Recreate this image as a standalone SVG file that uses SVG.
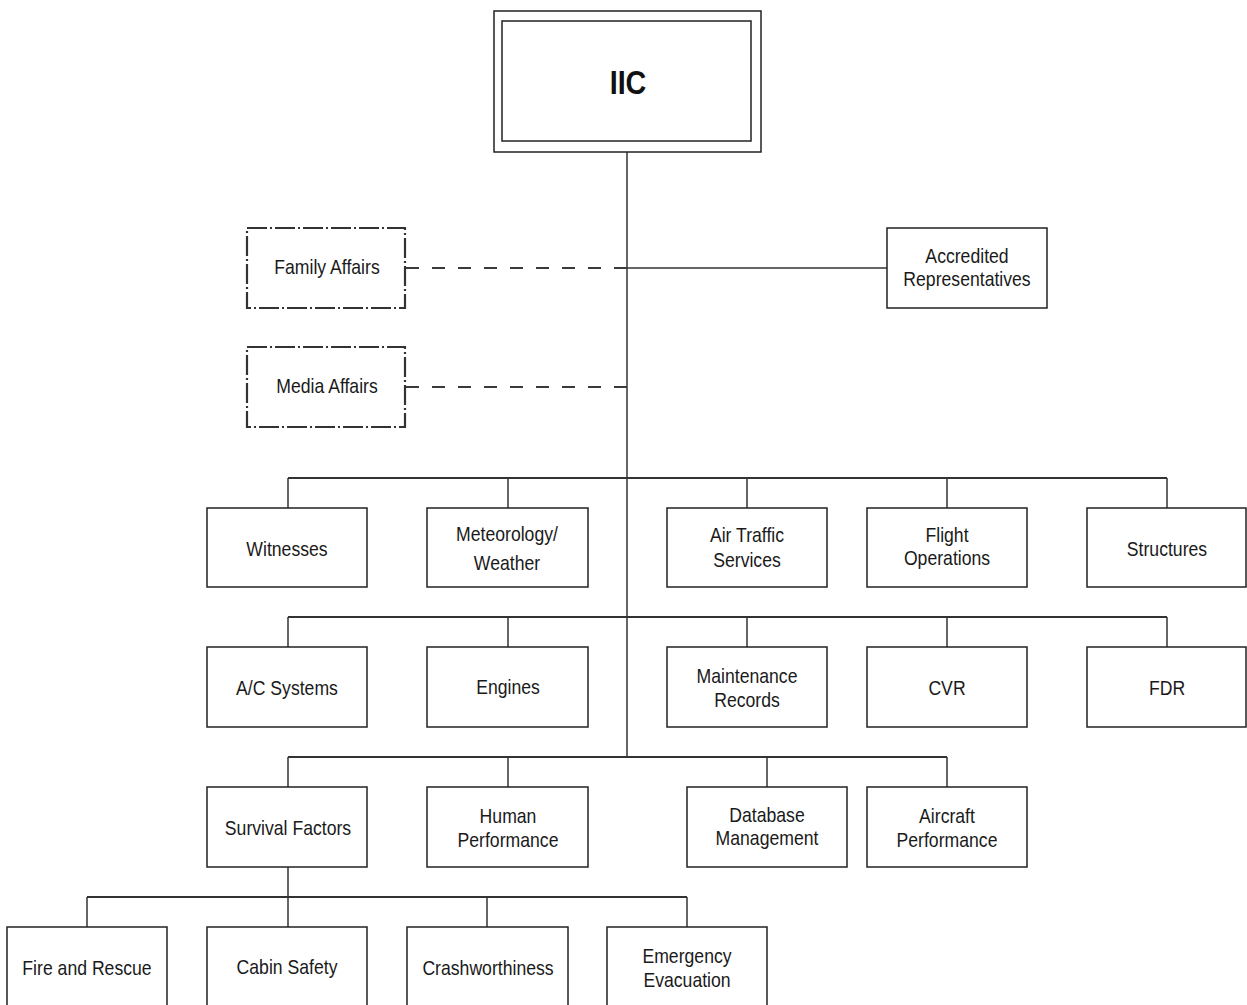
<svg xmlns="http://www.w3.org/2000/svg" width="1247" height="1005" viewBox="0 0 1247 1005">
<style>
  .bg { fill: #ffffff; }
  .box { fill: #ffffff; stroke: #222222; stroke-width: 1.5; }
  .dd { fill: #ffffff; stroke: #333333; stroke-width: 2.2; stroke-dasharray: 20 3 2 3; }
  .ln { stroke: #333333; stroke-width: 1.5; fill: none; }
  .bus { stroke: #333333; stroke-width: 2; fill: none; }
  .dash { stroke: #3a3a3a; stroke-width: 2.2; fill: none; stroke-dasharray: 13 13; }
  .t { font-family: "Liberation Sans", Arial, sans-serif; font-size: 20.5px; fill: #1a1a1a; text-anchor: middle; }
  .tb { font-family: "Liberation Sans", Arial, sans-serif; font-size: 33px; font-weight: bold; fill: #111111; text-anchor: middle; }
</style>
<rect class="bg" x="0" y="0" width="1247" height="1005"/>

<g id="connectors">
  <line class="ln" x1="627" y1="152" x2="627" y2="757"/>
  <line class="ln" x1="627" y1="268" x2="887" y2="268"/>
  <line class="dash" x1="406" y1="268" x2="627" y2="268"/>
  <line class="dash" x1="406" y1="387" x2="627" y2="387"/>
  <line class="bus" x1="288" y1="478" x2="1167" y2="478"/>
  <line class="ln" x1="288" y1="478" x2="288" y2="508"/>
  <line class="ln" x1="508" y1="478" x2="508" y2="508"/>
  <line class="ln" x1="747" y1="478" x2="747" y2="508"/>
  <line class="ln" x1="947" y1="478" x2="947" y2="508"/>
  <line class="ln" x1="1167" y1="478" x2="1167" y2="508"/>
  <line class="bus" x1="288" y1="617" x2="1167" y2="617"/>
  <line class="ln" x1="288" y1="617" x2="288" y2="647"/>
  <line class="ln" x1="508" y1="617" x2="508" y2="647"/>
  <line class="ln" x1="747" y1="617" x2="747" y2="647"/>
  <line class="ln" x1="947" y1="617" x2="947" y2="647"/>
  <line class="ln" x1="1167" y1="617" x2="1167" y2="647"/>
  <line class="bus" x1="288" y1="757" x2="947" y2="757"/>
  <line class="ln" x1="288" y1="757" x2="288" y2="787"/>
  <line class="ln" x1="508" y1="757" x2="508" y2="787"/>
  <line class="ln" x1="767" y1="757" x2="767" y2="787"/>
  <line class="ln" x1="947" y1="757" x2="947" y2="787"/>
  <line class="ln" x1="288" y1="867" x2="288" y2="927"/>
  <line class="bus" x1="87" y1="897" x2="687" y2="897"/>
  <line class="ln" x1="87" y1="897" x2="87" y2="927"/>
  <line class="ln" x1="487" y1="897" x2="487" y2="927"/>
  <line class="ln" x1="687" y1="897" x2="687" y2="927"/>
</g>

<g id="iic">
  <rect class="box" x="494" y="11" width="267" height="141"/>
  <rect class="box" x="502" y="21" width="249" height="120"/>
  <text class="tb" transform="translate(628 94) scale(0.87 1)">IIC</text>
</g>

<g id="family-affairs">
  <rect class="dd" x="247" y="228" width="158" height="80"/>
  <text class="t" transform="translate(327 274) scale(0.86 1)">Family Affairs</text>
</g>
<g id="media-affairs">
  <rect class="dd" x="247" y="347" width="158" height="80"/>
  <text class="t" transform="translate(327 393) scale(0.86 1)">Media Affairs</text>
</g>
<g id="accredited-representatives">
  <rect class="box" x="887" y="228" width="160" height="80"/>
  <text class="t" transform="translate(967 263) scale(0.86 1)">Accredited</text>
  <text class="t" transform="translate(967 286) scale(0.86 1)">Representatives</text>
</g>

<g id="witnesses">
  <rect class="box" x="207" y="508" width="160" height="79"/>
  <text class="t" transform="translate(287 556) scale(0.86 1)">Witnesses</text>
</g>
<g id="meteorology">
  <rect class="box" x="427" y="508" width="161" height="79"/>
  <text class="t" transform="translate(507 541) scale(0.86 1)">Meteorology/</text>
  <text class="t" transform="translate(507 570) scale(0.86 1)">Weather</text>
</g>
<g id="air-traffic-services">
  <rect class="box" x="667" y="508" width="160" height="79"/>
  <text class="t" transform="translate(747 542) scale(0.86 1)">Air Traffic</text>
  <text class="t" transform="translate(747 567) scale(0.86 1)">Services</text>
</g>
<g id="flight-operations">
  <rect class="box" x="867" y="508" width="160" height="79"/>
  <text class="t" transform="translate(947 542) scale(0.86 1)">Flight</text>
  <text class="t" transform="translate(947 565) scale(0.86 1)">Operations</text>
</g>
<g id="structures">
  <rect class="box" x="1087" y="508" width="159" height="79"/>
  <text class="t" transform="translate(1167 556) scale(0.86 1)">Structures</text>
</g>

<g id="ac-systems">
  <rect class="box" x="207" y="647" width="160" height="80"/>
  <text class="t" transform="translate(287 695) scale(0.86 1)">A/C Systems</text>
</g>
<g id="engines">
  <rect class="box" x="427" y="647" width="161" height="80"/>
  <text class="t" transform="translate(508 694) scale(0.86 1)">Engines</text>
</g>
<g id="maintenance-records">
  <rect class="box" x="667" y="647" width="160" height="80"/>
  <text class="t" transform="translate(747 683) scale(0.86 1)">Maintenance</text>
  <text class="t" transform="translate(747 707) scale(0.86 1)">Records</text>
</g>
<g id="cvr">
  <rect class="box" x="867" y="647" width="160" height="80"/>
  <text class="t" transform="translate(947 695) scale(0.86 1)">CVR</text>
</g>
<g id="fdr">
  <rect class="box" x="1087" y="647" width="159" height="80"/>
  <text class="t" transform="translate(1167 695) scale(0.86 1)">FDR</text>
</g>

<g id="survival-factors">
  <rect class="box" x="207" y="787" width="160" height="80"/>
  <text class="t" transform="translate(288 835) scale(0.86 1)">Survival Factors</text>
</g>
<g id="human-performance">
  <rect class="box" x="427" y="787" width="161" height="80"/>
  <text class="t" transform="translate(508 823) scale(0.86 1)">Human</text>
  <text class="t" transform="translate(508 847) scale(0.86 1)">Performance</text>
</g>
<g id="database-management">
  <rect class="box" x="687" y="787" width="160" height="80"/>
  <text class="t" transform="translate(767 822) scale(0.86 1)">Database</text>
  <text class="t" transform="translate(767 845) scale(0.86 1)">Management</text>
</g>
<g id="aircraft-performance">
  <rect class="box" x="867" y="787" width="160" height="80"/>
  <text class="t" transform="translate(947 823) scale(0.86 1)">Aircraft</text>
  <text class="t" transform="translate(947 847) scale(0.86 1)">Performance</text>
</g>

<g id="fire-and-rescue">
  <rect class="box" x="7" y="927" width="160" height="90"/>
  <text class="t" transform="translate(87 975) scale(0.86 1)">Fire and Rescue</text>
</g>
<g id="cabin-safety">
  <rect class="box" x="207" y="927" width="160" height="90"/>
  <text class="t" transform="translate(287 974) scale(0.86 1)">Cabin Safety</text>
</g>
<g id="crashworthiness">
  <rect class="box" x="407" y="927" width="161" height="90"/>
  <text class="t" transform="translate(488 975) scale(0.86 1)">Crashworthiness</text>
</g>
<g id="emergency-evacuation">
  <rect class="box" x="607" y="927" width="160" height="90"/>
  <text class="t" transform="translate(687 963) scale(0.86 1)">Emergency</text>
  <text class="t" transform="translate(687 987) scale(0.86 1)">Evacuation</text>
</g>
</svg>
